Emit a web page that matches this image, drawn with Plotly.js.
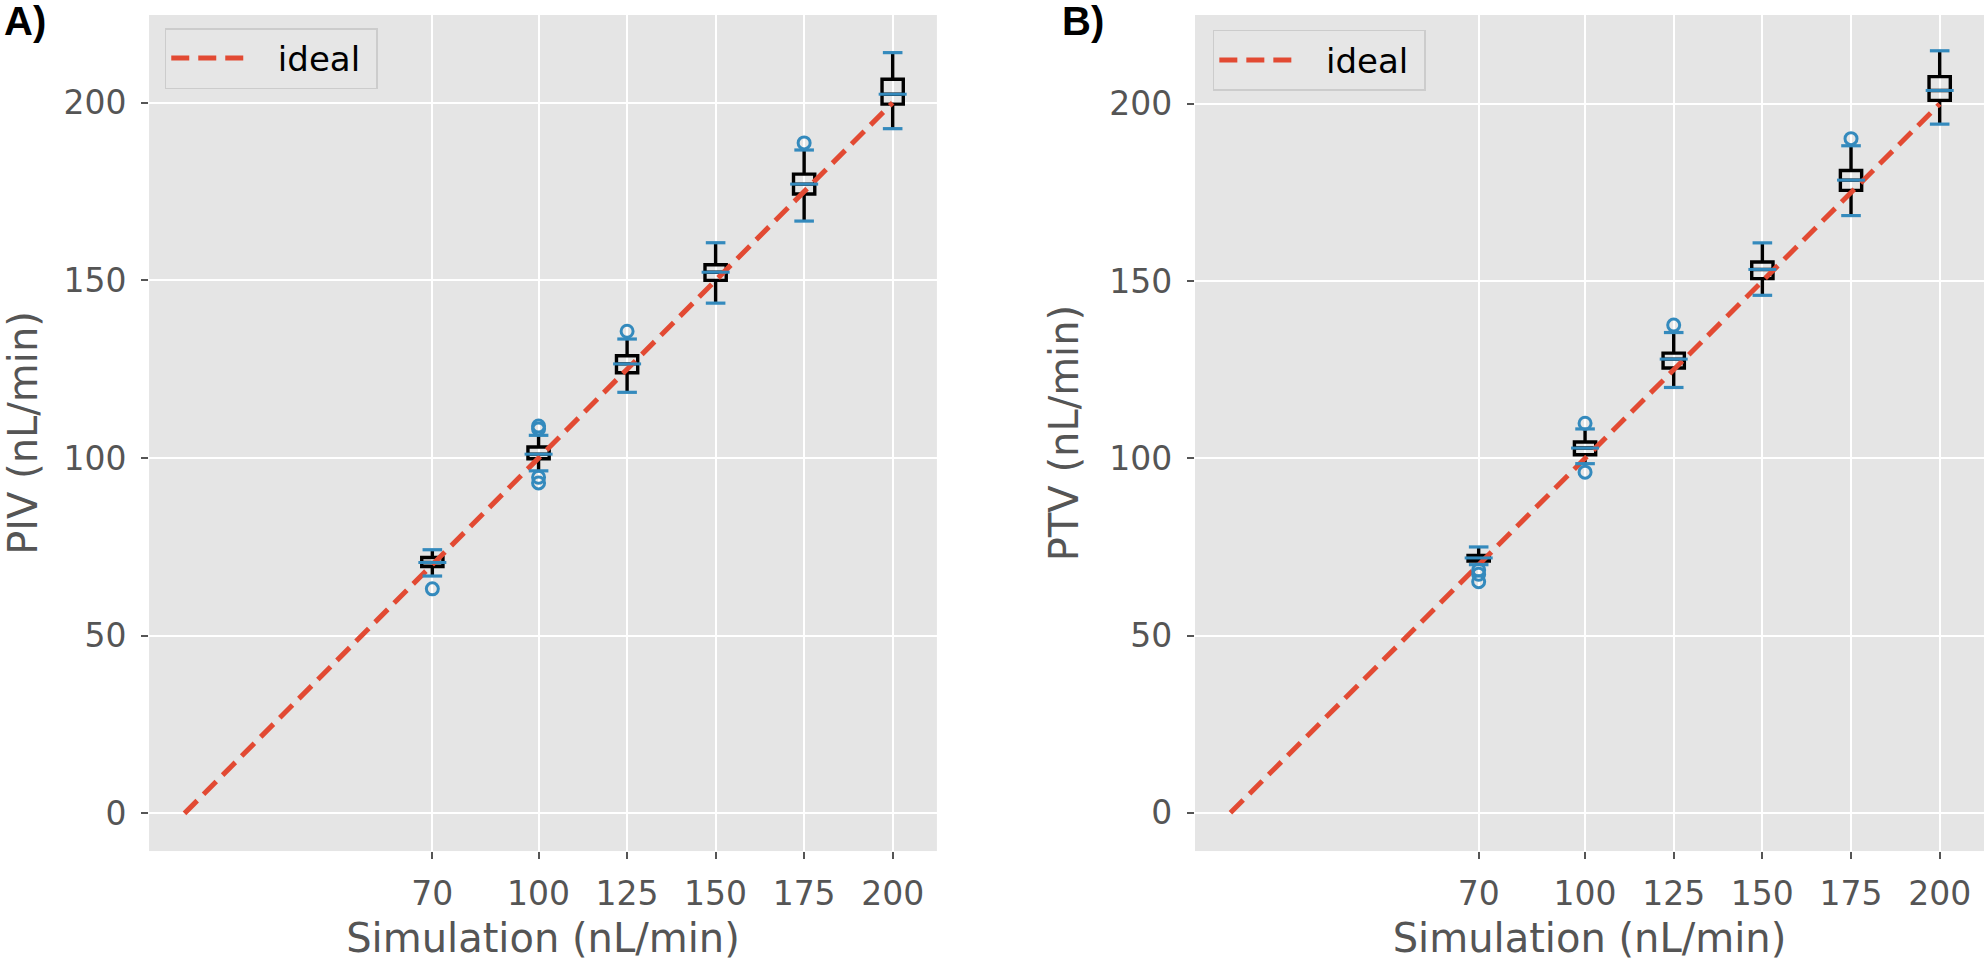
<!DOCTYPE html>
<html>
<head>
<meta charset="utf-8">
<script src="https://cdn.plot.ly/plotly-3.0.1.min.js"></script>
<style>
  html, body { margin: 0; padding: 0; background: #ffffff; }
  #plot { width: 1985px; height: 966px; }
</style>
</head>
<body>
<div id="plot"></div>
<script>
// simulated flow rates (x positions of the boxes)
const flows = [70, 100, 125, 150, 175, 200];
const idealX = [0, 200];
const idealY = [0, 200];

// A) PIV box statistics
const pivLow = [66.8, 96.4, 118.5, 143.6, 166.7, 192.7];
const pivQ1 = [69.5, 99.8, 124.0, 150.0, 174.3, 199.6];
const pivMed = [70.6, 101.1, 126.5, 152.3, 177.1, 202.4];
const pivQ3 = [72.0, 103.1, 128.8, 154.4, 179.9, 206.6];
const pivHigh = [74.2, 106.4, 133.5, 160.6, 186.7, 214.1];
const pivOutX = [70, 100, 100, 100, 100, 125, 175];
const pivOutY = [63.2, 109.0, 108.2, 94.6, 93.0, 135.7, 188.7];

// B) PTV box statistics
const ptvLow = [70.0, 98.5, 120.0, 146.0, 168.5, 194.3];
const ptvQ1 = [71.0, 101.0, 125.5, 150.7, 175.6, 201.0];
const ptvMed = [71.9, 102.9, 128.0, 153.3, 178.5, 203.8];
const ptvQ3 = [72.6, 104.6, 129.7, 155.4, 181.2, 207.7];
const ptvHigh = [75.0, 108.3, 135.5, 160.8, 188.2, 215.0];
const ptvOutX = [70, 70, 70, 100, 100, 125, 175];
const ptvOutY = [68.5, 67.3, 65.2, 109.9, 96.1, 137.6, 190.2];

const xTicks = [70, 100, 125, 150, 175, 200];
const yTicks = [0, 50, 100, 150, 200];

const RED = "#E24A33";
const BLUE = "#348ABD";
const GREY = "#555555";
const FONT = "DejaVu Sans, sans-serif";

function panel(xa, ya, leg, low, q1, med, q3, high, outX, outY) {
  return [
    {
      x: idealX, y: idealY, xaxis: xa, yaxis: ya, legend: leg,
      type: "scatter", mode: "lines", name: "\u00a0\u00a0ideal\u00a0",
      line: { color: RED, width: 5, dash: "18px,9px" },
      hoverinfo: "skip"
    },
    {
      type: "box", x: flows, q1: q1, median: med, q3: q3,
      lowerfence: low, upperfence: high,
      xaxis: xa, yaxis: ya, width: 6, whiskerwidth: 0,
      boxpoints: false, showlegend: false,
      line: { color: "#000000", width: 3.4 },
      fillcolor: "rgba(0,0,0,0)", hoverinfo: "skip"
    },
    {
      // blue medians
      x: flows, y: med, xaxis: xa, yaxis: ya, type: "scatter", mode: "markers",
      showlegend: false, hoverinfo: "skip",
      marker: { symbol: "line-ew", size: 20, color: BLUE, line: { color: BLUE, width: 3 } }
    },
    {
      // blue whisker caps
      x: flows.concat(flows), y: low.concat(high), xaxis: xa, yaxis: ya,
      type: "scatter", mode: "markers", showlegend: false, hoverinfo: "skip",
      marker: { symbol: "line-ew", size: 14, color: BLUE, line: { color: BLUE, width: 3.2 } }
    },
    {
      // fliers
      x: outX, y: outY, xaxis: xa, yaxis: ya, type: "scatter", mode: "markers",
      showlegend: false, hoverinfo: "skip",
      marker: { symbol: "circle-open", size: 12, color: BLUE, line: { color: BLUE, width: 3 } }
    }
  ];
}

const data = panel("x", "y", "legend", pivLow, pivQ1, pivMed, pivQ3, pivHigh, pivOutX, pivOutY)
  .concat(panel("x2", "y2", "legend2", ptvLow, ptvQ1, ptvMed, ptvQ3, ptvHigh, ptvOutX, ptvOutY));

function xAxis(domain, anchor) {
  return {
    domain: domain, anchor: anchor, range: [-10, 212.5],
    tickvals: xTicks, ticks: "outside", ticklen: 7, tickwidth: 2, tickcolor: GREY,
    ticklabelstandoff: 6,
    showgrid: true, gridcolor: "#ffffff", gridwidth: 2, zeroline: false, showline: false,
    tickfont: { family: FONT, size: 33, color: GREY },
    title: { text: "Simulation (nL/min)", font: { family: FONT, size: 40, color: GREY }, standoff: 12 },
    automargin: false
  };
}

function yAxis(domain, anchor, range, label) {
  return {
    domain: domain, anchor: anchor, range: range,
    tickvals: yTicks, ticks: "outside", ticklen: 7, tickwidth: 2, tickcolor: GREY,
    ticklabelstandoff: 8,
    showgrid: true, gridcolor: "#ffffff", gridwidth: 2, zeroline: false, showline: false,
    tickfont: { family: FONT, size: 33, color: GREY },
    title: { text: label, font: { family: FONT, size: 40, color: GREY }, standoff: 18 },
    automargin: false
  };
}

const legendStyle = {
  bgcolor: "rgba(229,229,229,0.9)", bordercolor: "#cccccc", borderwidth: 1.5,
  font: { family: FONT, size: 34, color: "#000000" },
  itemwidth: 80, tracegroupgap: 0,
  xanchor: "left", yanchor: "top"
};

const layout = {
  width: 1985, height: 966,
  margin: { l: 0, r: 0, t: 0, b: 0 },
  paper_bgcolor: "#ffffff", plot_bgcolor: "#E5E5E5",
  showlegend: true,
  xaxis: xAxis([0.0751, 0.4720], "y"),
  yaxis: yAxis([0.119, 0.9845], "x", [-10.6, 224.7], "PIV (nL/min)"),
  xaxis2: xAxis([0.6020, 0.9995], "y2"),
  yaxis2: yAxis([0.119, 0.9845], "x2", [-10.8, 225.1], "PTV (nL/min)"),
  legend: Object.assign({ x: 0.083, y: 0.971 }, legendStyle),
  legend2: Object.assign({ x: 0.611, y: 0.969 }, legendStyle),
  annotations: [
    { text: "<b>A)</b>", xref: "paper", yref: "paper", x: 0.001, y: 0.978,
      xanchor: "left", yanchor: "middle", showarrow: false,
      font: { family: "Liberation Sans, Arial, sans-serif", size: 40, color: "#000000" } },
    { text: "<b>B)</b>", xref: "paper", yref: "paper", x: 0.534, y: 0.978,
      xanchor: "left", yanchor: "middle", showarrow: false,
      font: { family: "Liberation Sans, Arial, sans-serif", size: 40, color: "#000000" } }
  ]
};

Plotly.newPlot("plot", data, layout, { staticPlot: true });
</script>
</body>
</html>
